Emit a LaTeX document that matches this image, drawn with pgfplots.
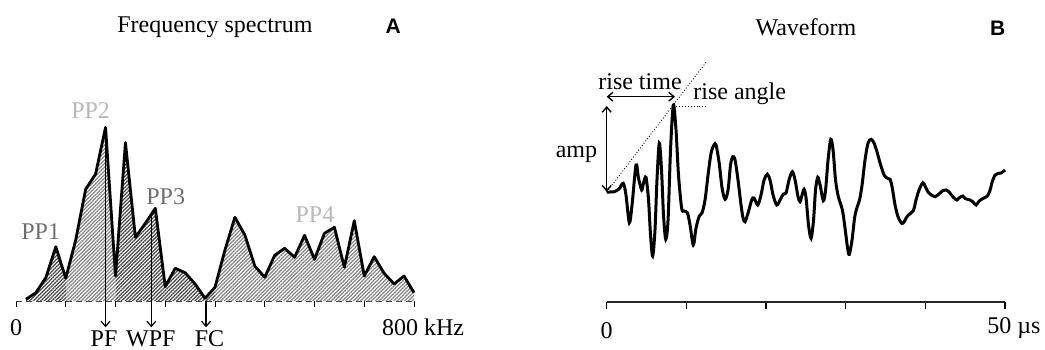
\documentclass[border=0pt]{standalone}
\usepackage{fontspec}
\setmainfont{Liberation Serif}
\newfontfamily\sansfnt{Liberation Sans}
\usepackage{pgfplots}
\pgfplotsset{compat=1.18}
\usetikzlibrary{patterns.meta,arrows.meta}
\definecolor{ppdark}{gray}{0.43}
\definecolor{pplight}{gray}{0.72}
\begin{document}
\fontsize{12}{14}\selectfont
\begin{tikzpicture}[lbl/.style={inner sep=0pt},
  abc/.style={inner sep=0pt, anchor=base, font={\sansfnt\bfseries\fontsize{10.5}{12}\selectfont}},
  arr/.style={-{Straight Barb[length=2.6pt,width=4.5pt]}, line width=0.6pt},
  darr/.style={{Straight Barb[length=2.6pt,width=4.5pt]}-{Straight Barb[length=2.6pt,width=4.5pt]}, line width=0.7pt}]
\useasboundingbox (0,0) rectangle (522.5pt,174.5pt);
% ---------------- Panel A ----------------
\begin{axis}[
  at={(8pt,24pt)}, anchor=south west, scale only axis,
  width=199pt, height=150.5pt,
  xmin=0, xmax=800, ymin=0, ymax=301,
  axis x line=bottom, axis y line=none,
  x axis line style={-, black!75, densely dashed, line width=0.5pt},
  xtick={0,100,...,800}, xticklabels={},
  ytick=\empty,
  tick align=outside, major tick length=3pt,
  tick style={black, line width=0.5pt},
  clip=false,
]
\addplot[draw=none, pattern={Lines[angle=45,distance=1.3pt,line width=0.62pt]}, pattern color=black!72]
  coordinates {(20,1.7)(40,8.3)(60,23.3)(80,54.3)(100,22.7)} \closedcycle;
\addplot[draw=none, pattern={Lines[angle=45,distance=1.3pt,line width=0.62pt]}, pattern color=black!48]
  coordinates {(100,22.7)(120,61)(140,111.7)(160,127)(180,173.7)(200,25)} \closedcycle;
\addplot[draw=none, pattern={Lines[angle=45,distance=1.3pt,line width=0.62pt]}, pattern color=black!72]
  coordinates {(200,25)(220,158.3)(240,63.7)(260,77.7)(280,92.7)(300,14.3)(320,32.7)(340,28.3)(360,17)(380,2.7)(400,13.7)} \closedcycle;
\addplot[draw=none, pattern={Lines[angle=45,distance=1.3pt,line width=0.62pt]}, pattern color=black!48]
  coordinates {(400,13.7)(420,51)(440,83.7)(460,66)(480,35)(500,23.7)(520,45.7)(540,52.7)(560,43.7)(580,65.7)(600,41.7)(620,67.7)(640,73.7)(660,33.7)(680,80.3)(700,25)(720,44.3)(740,27.7)(760,17)(780,25)(800,8.3)} \closedcycle;
\addplot[black, line width=1.4pt, line join=round] coordinates {
(20,1.7)(40,8.3)(60,23.3)(80,54.3)(100,22.7)(120,61)(140,111.7)(160,127)(180,173.7)(200,25)
(220,158.3)(240,63.7)(260,77.7)(280,92.7)(300,14.3)(320,32.7)(340,28.3)(360,17)(380,2.7)(400,13.7)
(420,51)(440,83.7)(460,66)(480,35)(500,23.7)(520,45.7)(540,52.7)(560,43.7)(580,65.7)(600,41.7)
(620,67.7)(640,73.7)(660,33.7)(680,80.3)(700,25)(720,44.3)(740,27.7)(760,17)(780,25)(800,8.3)};
\draw[arr] (180,173.7) -- (180,-26.3);
\draw[arr] (272,86.7) -- (272,-26.3);
\draw[arr] (382,0) -- (382,-26.3);
\node[lbl, anchor=base] at (177,-45) {PF};
\node[lbl, anchor=base] at (271,-45) {WPF};
\node[lbl, anchor=base] at (389,-45) {FC};
\node[lbl, anchor=base] at (0,-34) {0};
\node[lbl, anchor=base west] at (735,-34) {800 kHz};
\node[lbl, text=ppdark] at (49.6,69.3) {PP1};
\node[lbl, text=pplight] at (150,190) {PP2};
\node[lbl, text=ppdark] at (301,104.3) {PP3};
\node[lbl, text=pplight] at (601,86) {PP4};
\node[lbl, anchor=base] at (400,268.7) {Frequency spectrum};
\node[abc] at (758,268) {A};
\end{axis}
% ---------------- Panel B ----------------
\begin{axis}[
  at={(303.35pt,23.5pt)}, anchor=south west, scale only axis,
  width=199.2pt, height=151pt,
  xmin=0, xmax=50, ymin=-110, ymax=192,
  axis x line=bottom, axis y line=none,
  x axis line style={-, black!85, line width=0.6pt},
  xtick={0,10,...,50}, xticklabels={},
  ytick=\empty,
  tick align=outside, major tick length=3.5pt,
  tick style={black, line width=0.6pt},
  clip=false,
]
\addplot[black, line width=1.5pt, smooth, tension=0.5] coordinates {
(0,0)(0.41,0)(0.92,0.3)(1.54,3)(2.08,8.7)(2.42,-3)(2.84,-30.7)(3.18,-13)(3.68,27)(3.99,14)
(4.39,2)(4.62,9)(4.93,14.7)(5.25,-8)(5.50,-43)(5.77,-64)(6.06,-38)(6.31,12)(6.60,48.7)(6.88,22)
(7.13,-23)(7.41,-47.3)(7.70,-28)(8.01,42)(8.36,87)(8.70,62)(9.01,17)(9.41,-16.3)(9.70,-19)(10.12,-20.7)
(10.46,-33)(10.87,-53)(11.21,-36)(11.62,-24)(11.96,-21)(12.34,-8)(12.72,17)(13.10,39)(13.47,47)(13.72,47)
(14.10,30)(14.48,4)(14.86,-7.3)(15.23,2)(15.54,27)(15.82,35.3)(16.11,32)(16.48,12)(16.86,-13)(17.11,-26)
(17.36,-29.7)(17.74,-21)(18.20,-8)(18.49,-6)(18.96,-13)(19.37,-3)(19.75,12)(20.16,17.7)(20.50,12)(20.88,-3)
(21.34,-13)(21.76,-8)(22.17,-2)(22.51,-1)(22.88,12)(23.30,20.3)(23.64,12)(24.02,-5)(24.27,-9.7)(24.52,-3)
(24.77,2.7)(25.02,-6)(25.33,-33)(25.65,-46.3)(25.96,-28)(26.21,2)(26.49,14.7)(26.78,7)(27.19,-8.7)(27.47,2)
(27.78,32)(28.12,52.7)(28.41,42)(28.72,12)(29.07,-4.7)(29.58,-18)(29.91,-36)(30.23,-56)(30.45,-62.3)(30.79,-48)
(31.11,-26)(31.38,-16.3)(31.73,-8)(32.05,7)(32.42,32)(32.80,49)(33.18,52.7)(33.55,49)(33.93,40)(34.31,29)
(34.81,17)(35.19,14)(35.56,12.7)(35.82,5)(36.19,-13)(36.57,-25)(37.03,-31.3)(37.32,-30)(37.57,-26)(37.86,-23)
(38.48,-18.7)(38.82,-8)(39.20,2)(39.67,9.3)(39.95,6)(40.33,0)(40.58,-2)(41.21,-4.7)(41.84,-1)(42.21,1.5)
(42.59,2)(42.97,0)(43.47,-5)(43.94,-8)(44.22,-6)(44.69,-4)(44.98,-6.5)(45.61,-8)(45.98,-10)(46.36,-13)
(46.74,-9)(47.27,-6.3)(47.78,-4)(48.12,2)(48.37,10)(48.75,17)(49.12,18.5)(49.50,19)(50,22)};
\draw[densely dotted, line width=0.45pt] (0,0) -- (12.55,130.6);
\draw[densely dotted, line width=0.45pt] (8.36,86) -- (12.55,86);
\draw[darr] (0,0.3) -- (0,86);
\draw[darr] (0,95.3) -- (8.57,95.3);
\node[lbl, anchor=base] at (4.18,102.7) {rise time};
\node[lbl, anchor=base] at (16.7,92) {rise angle};
\node[lbl, anchor=base] at (-3.8,34.7) {amp};
\node[lbl, anchor=base] at (25,156) {Waveform};
\node[abc] at (49.06,156) {B};
\node[lbl, anchor=base] at (0,-146) {0};
\node[lbl, anchor=base] at (51.1,-141.3) {50 µs};
\end{axis}
\end{tikzpicture}
\end{document}
